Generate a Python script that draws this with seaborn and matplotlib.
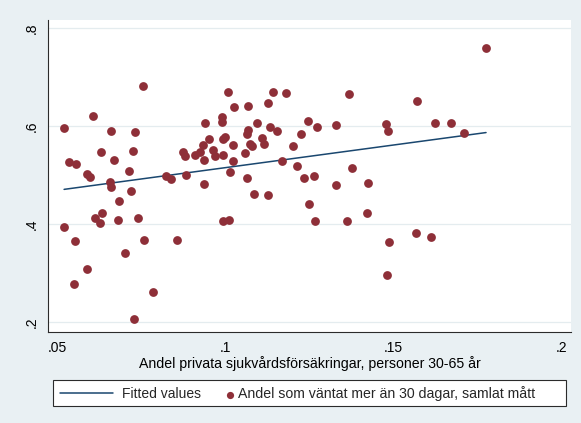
import numpy as np
import pandas as pd
import matplotlib
matplotlib.use("Agg")
import matplotlib.pyplot as plt
import seaborn as sns
from matplotlib.patches import Rectangle

# Share of persons aged 30-65 with private health insurance, per area
andel_forsakring = [
    0.0756, 0.1009, 0.1143, 0.1180, 0.1367, 0.1570, 0.1776, 0.1027, 0.1068, 0.1128,
    0.0607, 0.0520, 0.0660, 0.0730, 0.0939, 0.0989, 0.0989, 0.1095, 0.1133, 0.1155,
    0.1246, 0.1273, 0.1330, 0.1478, 0.1483, 0.1623, 0.1671, 0.1709, 0.1068, 0.1064,
    0.0999, 0.0992, 0.0952, 0.0934, 0.1024, 0.1108, 0.1116, 0.1073, 0.1078, 0.1059,
    0.1224, 0.1201, 0.0875, 0.0880, 0.0910, 0.0925, 0.0964, 0.0937, 0.0969, 0.0994,
    0.1024, 0.1170, 0.1213, 0.1378, 0.0631, 0.0725, 0.0668, 0.0534, 0.0556, 0.0589,
    0.0596, 0.0713, 0.0824, 0.0839, 0.0884, 0.1014, 0.1064, 0.1235, 0.1264, 0.1330,
    0.1426, 0.0656, 0.0659, 0.0718, 0.0937, 0.1085, 0.1128, 0.0683, 0.1250, 0.1422,
    0.0612, 0.0632, 0.0627, 0.0681, 0.0741, 0.0992, 0.1012, 0.1268, 0.1363, 0.1567,
    0.1612, 0.1486, 0.1481, 0.0521, 0.0552, 0.0757, 0.0857, 0.0700, 0.0589, 0.0550,
    0.0784, 0.0728,
]

# Share who waited more than 30 days (combined measure), same areas
andel_vantat = [
    0.682, 0.670, 0.670, 0.669, 0.665, 0.651, 0.759, 0.639, 0.642, 0.647,
    0.622, 0.597, 0.590, 0.588, 0.606, 0.620, 0.608, 0.607, 0.598, 0.591,
    0.610, 0.598, 0.603, 0.604, 0.591, 0.607, 0.606, 0.586, 0.593, 0.584,
    0.579, 0.574, 0.574, 0.561, 0.562, 0.577, 0.563, 0.563, 0.559, 0.546,
    0.584, 0.560, 0.548, 0.540, 0.542, 0.548, 0.552, 0.531, 0.540, 0.542,
    0.529, 0.529, 0.520, 0.515, 0.547, 0.550, 0.531, 0.528, 0.523, 0.503,
    0.496, 0.508, 0.499, 0.493, 0.501, 0.507, 0.495, 0.495, 0.499, 0.481,
    0.484, 0.486, 0.477, 0.469, 0.482, 0.462, 0.459, 0.448, 0.441, 0.424,
    0.414, 0.423, 0.402, 0.408, 0.412, 0.406, 0.408, 0.406, 0.406, 0.383,
    0.375, 0.364, 0.296, 0.395, 0.366, 0.369, 0.368, 0.341, 0.309, 0.278,
    0.261, 0.207,
]

x_ticks = [0.05, 0.10, 0.15, 0.20]
x_ticklabels = [".05", ".1", ".15", ".2"]
y_ticks = [0.2, 0.4, 0.6, 0.8]
y_ticklabels = [".2", ".4", ".6", ".8"]

x_title = "Andel privata sjukvårdsförsäkringar, personer 30-65 år"
fit_label = "Fitted values"
point_label = "Andel som väntat mer än 30 dagar, samlat mått"

df = pd.DataFrame({"forsakring": andel_forsakring, "vantat": andel_vantat})

sns.set_style("white")
plt.rcParams["font.family"] = ["Liberation Sans", "DejaVu Sans"]
plt.rcParams["font.size"] = 10

BG = "#E9F0F3"
NAVY = "#1A476F"
MAROON = "#8E2F38"
AXIS = "#2b2b2b"

fig = plt.figure(figsize=(5.81, 4.23), dpi=100, facecolor=BG)
W, H = 581.0, 423.0
left, right, top, bottom = 48.3, 570.7, 20.0, 331.7
ax = fig.add_axes([left / W, 1 - bottom / H, (right - left) / W, (bottom - top) / H])
ax.set_facecolor("white")

# Linear fit first, then the observations on top
sns.regplot(data=df, x="forsakring", y="vantat", scatter=False, ci=None,
            color=NAVY, ax=ax, line_kws=dict(lw=1.1, zorder=2))
sns.scatterplot(data=df, x="forsakring", y="vantat", color=MAROON, s=40,
                linewidth=0, ax=ax, zorder=3, legend=False)

ax.set_xlim(0.0473, 0.2028)
ax.set_ylim(0.181, 0.817)
ax.set_xticks(x_ticks)
ax.set_xticklabels(x_ticklabels)
ax.set_yticks(y_ticks)
ax.set_yticklabels(y_ticklabels)

for side in ("top", "right"):
    ax.spines[side].set_visible(False)
for side in ("left", "bottom"):
    ax.spines[side].set_color(AXIS)
    ax.spines[side].set_linewidth(0.8)

ax.yaxis.grid(True, color="#E4ECEF", lw=0.9)
ax.xaxis.grid(False)
ax.set_axisbelow(True)

ax.tick_params(axis="both", direction="out", length=4.5, width=0.8,
               color=AXIS, labelsize=10, labelcolor="black")
ax.tick_params(axis="x", pad=2.0)
ax.tick_params(axis="y", pad=7.5)
for t in ax.get_yticklabels():
    t.set_rotation(90)
    t.set_ha("center")
    t.set_va("center")

ax.set_ylabel("")
ax.set_xlabel(x_title, fontsize=10.2, color="black")
ax.xaxis.set_label_coords(0.5, (bottom - 363.3) / (bottom - top))
ax.xaxis.label.set_va("center")

# Legend box spanning below the plot
fig.add_artist(Rectangle((53.3 / W, 1 - 406 / H), (566 - 53.3) / W, 26 / H,
                         transform=fig.transFigure, facecolor="white",
                         edgecolor=AXIS, lw=0.8, zorder=1))

fit_line = ax.get_lines()[0]
points = ax.collections[-1]
y_leg = 1 - 394 / H
fig.legend(handles=[fit_line], labels=[fit_label], loc="center left",
           bbox_to_anchor=(60 / W, y_leg), frameon=False, borderpad=0,
           borderaxespad=0, handlelength=3.82, handletextpad=0.63,
           fontsize=10, numpoints=1)
fig.legend(handles=[points], labels=[point_label], loc="center left",
           bbox_to_anchor=(225.5 / W, y_leg), frameon=False, borderpad=0,
           borderaxespad=0, handlelength=0.6, handletextpad=0.3,
           fontsize=10.2, scatterpoints=1, markerscale=0.82)

fig.savefig("out.png", dpi=100, facecolor=BG)
